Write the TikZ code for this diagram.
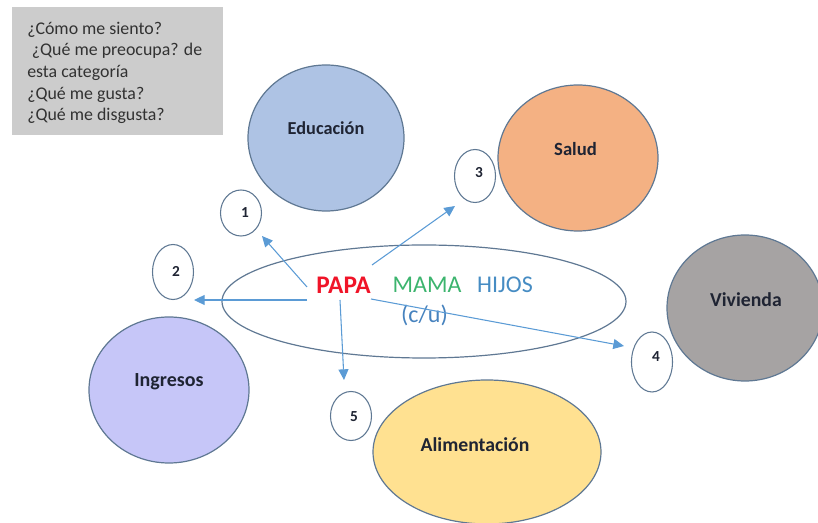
\documentclass[tikz,border=0pt]{standalone}
\usepackage{fontspec}
\setmainfont{Carlito}
\usetikzlibrary{arrows.meta,shapes.geometric}
\definecolor{edgeblue}{HTML}{5F7893}
\definecolor{arrowblue}{HTML}{5B9BD5}
\definecolor{inktext}{HTML}{1F2433}
\tikzset{
  big/.style={ellipse,draw=edgeblue,line width=0.9pt,inner sep=0pt,minimum width=#1},
  tag/.style={ellipse,draw=edgeblue,fill=white,line width=0.8pt,inner sep=0pt},
  num/.style={font=\fontsize{11.5}{13}\selectfont\bfseries,text=inktext,inner sep=0pt},
  cat/.style={font=\fontsize{#1}{16}\selectfont\bfseries,text=inktext,inner sep=0pt},
  member/.style={inner sep=0pt},
  link/.style={draw=arrowblue,line width=0.8pt,-{Triangle[length=8pt,width=7.5pt]}}
}
\begin{document}
\begin{tikzpicture}[x=0.75pt,y=-0.75pt]
\useasboundingbox (0,0) rectangle (818,523);
\begin{scope}
\clip (0,0) rectangle (818,523);
\node[big=156*0.75pt,minimum height=146*0.75pt,fill={rgb,255:red,174;green,195;blue,228}] (edu) at (326,138) {};
\node[big=160*0.75pt,minimum height=146*0.75pt,fill={rgb,255:red,244;green,177;blue,131}] (sal) at (578,158) {};
\node[big=156*0.75pt,minimum height=146*0.75pt,fill={rgb,255:red,166;green,163;blue,163}] (viv) at (745,308) {};
\node[big=160*0.75pt,minimum height=146*0.75pt,fill={rgb,255:red,198;green,198;blue,248}] (ing) at (169,390) {};
\node[big=228*0.75pt,minimum height=144*0.75pt,fill={rgb,255:red,255;green,225;blue,145}] (ali) at (487,452) {};
\end{scope}
\node[cat=13.7] (edutext) at (326,128) {Educación};
\node[cat=14] (saltext) at (575.5,149) {Salud};
\node[cat=14.8] (vivtext) at (746,300) {Vivienda};
\node[cat=15] (ingtext) at (169,382) {Ingresos};
\node[cat=14.8] (alitext) at (475,445) {Alimentación};
\node[draw=none,fill={rgb,255:red,204;green,204;blue,204},minimum width=211*0.75pt,minimum height=128*0.75pt,inner sep=0pt] (box) at (117,71.5) {};
\node[anchor=north west,inner sep=0pt,align=left,font=\fontsize{13.4}{16.3}\selectfont,text={rgb,255:red,50;green,50;blue,50}] (boxtext) at (27,21.5) {¿Cómo me siento?\\\hspace*{3.5pt}¿Qué me preocupa? de\\esta categoría\\¿Qué me gusta?\\¿Qué me disgusta?};
\node[big=404*0.75pt,minimum height=113*0.75pt] (centre) at (424,301.5) {};
\node[tag,minimum width=41*0.75pt,minimum height=46*0.75pt] (n1) at (241,213) {};
\node[tag,minimum width=41*0.75pt,minimum height=55*0.75pt] (n2) at (173,272) {};
\node[tag,minimum width=41*0.75pt,minimum height=53*0.75pt] (n3) at (475,176) {};
\node[tag,minimum width=41*0.75pt,minimum height=60*0.75pt] (n4) at (652,362) {};
\node[tag,minimum width=41*0.75pt,minimum height=49*0.75pt] (n5) at (351,416) {};
\node[num] (t1) at (245,213) {1};
\node[num] (t2) at (176,271) {2};
\node[num] (t3) at (479,173) {3};
\node[num] (t4) at (656,357) {4};
\node[num] (t5) at (354,417) {5};
\node[member,text={rgb,255:red,240;green,20;blue,40},font=\fontsize{19}{22}\selectfont\bfseries] (papa) at (343.5,285) {PAPA};
\node[member,text={rgb,255:red,60;green,180;blue,110},font=\fontsize{18}{22}\selectfont] (mama) at (427,285) {MAMA};
\node[member,text={rgb,255:red,70;green,140;blue,195},font=\fontsize{18}{22}\selectfont] (hijos) at (505,285) {HIJOS};
\node[member,text={rgb,255:red,70;green,130;blue,190},font=\fontsize{18}{22}\selectfont] (cu) at (424.5,315) {(c/u)};
\coordinate (s1) at (307,287);
\coordinate (e1) at (262,236);
\coordinate (s2) at (307,300);
\coordinate (e2) at (194,300);
\coordinate (s3) at (372,265);
\coordinate (e3) at (455,206);
\coordinate (s4) at (371,299);
\coordinate (e4) at (624,346);
\coordinate (s5) at (340,300);
\coordinate (e5) at (344,380);
\draw[link] (s1) -- (e1);
\draw[link] (s2) -- (e2);
\draw[link] (s3) -- (e3);
\draw[link] (s4) -- (e4);
\draw[link] (s5) -- (e5);
\end{tikzpicture}
\end{document}
